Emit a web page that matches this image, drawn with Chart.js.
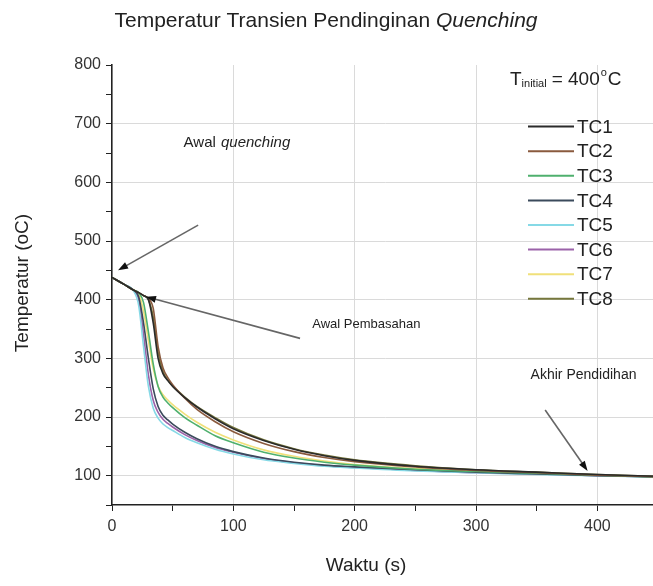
<!DOCTYPE html>
<html lang="id">
<head>
  <meta charset="UTF-8" />
  <title>Temperatur Transien Pendinginan Quenching</title>
  <script src="https://cdn.jsdelivr.net/npm/chart.js@4"></script>
  <style>
    html, body { margin: 0; padding: 0; background: #fff; overflow: hidden; }
    canvas { display: block; }
  </style>
</head>
<body>
  <canvas id="quenchChart" width="664" height="586"></canvas>

  <script>
    // waktu (s)
    const times = [0, 10, 18, 22, 26, 30, 34, 38, 42, 46, 50, 60, 70, 85, 100, 125, 150, 175, 200, 250, 300, 350, 400, 450];

    // temperatur termokopel (°C)
    const tc1 = [438, 426, 416, 412, 407, 400, 360, 300, 274, 262, 252, 233, 217, 197, 180, 160, 145, 134, 126, 116, 110, 106, 102, 99];
    const tc2 = [438, 426, 416, 412, 407, 402, 385, 320, 284, 267, 255, 232, 213, 192, 175, 155, 141, 131, 124, 115, 109, 105, 101, 98];
    const tc3 = [438, 426, 416, 412, 395, 345, 290, 252, 234, 224, 216, 199, 186, 168, 156, 140, 130, 123, 118, 111, 107, 104, 101, 98];
    const tc4 = [438, 426, 416, 405, 360, 300, 248, 218, 203, 195, 188, 174, 163, 150, 141, 130, 123, 118, 115, 110, 106, 103, 100, 98];
    const tc5 = [438, 426, 414, 390, 320, 252, 215, 198, 188, 182, 177, 165, 156, 145, 137, 127, 121, 116, 113, 108, 105, 102, 100, 97];
    const tc6 = [438, 426, 415, 400, 340, 272, 228, 208, 196, 189, 183, 170, 160, 148, 140, 129, 122, 117, 114, 109, 105, 103, 100, 98];
    const tc7 = [438, 426, 416, 410, 380, 330, 282, 253, 238, 229, 221, 205, 191, 174, 161, 144, 133, 125, 119, 112, 107, 104, 101, 98];
    const tc8 = [438, 426, 416, 412, 407, 400, 370, 310, 278, 263, 253, 234, 218, 199, 182, 161, 146, 135, 127, 117, 110, 106, 102, 99];

    const seriesNames = ['TC1', 'TC2', 'TC3', 'TC4', 'TC5', 'TC6', 'TC7', 'TC8'];
    const seriesValues = [tc1, tc2, tc3, tc4, tc5, tc6, tc7, tc8];
    const seriesColors = ['#2a2a2a', '#8a5a3e', '#4fb06e', '#3b4a5c', '#86d9e6', '#9b62a9', '#f0e07a', '#76773c'];

    const FONT = "'Liberation Sans', Arial, sans-serif";

    const datasets = seriesNames.map((name, i) => ({
      label: name,
      data: times.map((t, j) => ({ x: t, y: seriesValues[i][j] })),
      borderColor: seriesColors[i],
      borderWidth: 1.6,
      pointRadius: 0,
      cubicInterpolationMode: 'monotone',
      fill: false
    }));

    function drawArrow(ctx, x1, y1, x2, y2) {
      const ang = Math.atan2(y2 - y1, x2 - x1);
      ctx.save();
      ctx.strokeStyle = '#666';
      ctx.lineWidth = 1.6;
      ctx.beginPath();
      ctx.moveTo(x1, y1);
      ctx.lineTo(x2 - Math.cos(ang) * 6, y2 - Math.sin(ang) * 6);
      ctx.stroke();
      ctx.fillStyle = '#111';
      ctx.beginPath();
      ctx.moveTo(x2, y2);
      ctx.lineTo(x2 - Math.cos(ang) * 10 + Math.sin(ang) * 3.5, y2 - Math.sin(ang) * 10 - Math.cos(ang) * 3.5);
      ctx.lineTo(x2 - Math.cos(ang) * 10 - Math.sin(ang) * 3.5, y2 - Math.sin(ang) * 10 + Math.cos(ang) * 3.5);
      ctx.closePath();
      ctx.fill();
      ctx.restore();
    }

    // judul, label sumbu, legenda dan anotasi
    const overlay = {
      id: 'overlay',
      afterDraw(chart) {
        const { ctx } = chart;
        const px = v => chart.scales.x.getPixelForValue(v);
        const py = v => chart.scales.y.getPixelForValue(v);

        ctx.save();
        ctx.fillStyle = '#222';
        ctx.textBaseline = 'middle';

        // judul
        ctx.font = `21px ${FONT}`;
        const t1 = 'Temperatur Transien Pendinginan ';
        const w1 = ctx.measureText(t1).width;
        ctx.font = `italic 21px ${FONT}`;
        const w2 = ctx.measureText('Quenching').width;
        const tx = 326 - (w1 + w2) / 2;
        ctx.font = `21px ${FONT}`;
        ctx.fillText(t1, tx, 21);
        ctx.font = `italic 21px ${FONT}`;
        ctx.fillText('Quenching', tx + w1, 21);

        // label sumbu
        ctx.font = `19px ${FONT}`;
        ctx.textAlign = 'center';
        ctx.fillText('Waktu (s)', 366, 566);
        ctx.save();
        ctx.translate(23, 283);
        ctx.rotate(-Math.PI / 2);
        ctx.fillText('Temperatur (oC)', 0, 0);
        ctx.restore();
        ctx.textAlign = 'left';

        // T initial
        let x = 510, y = py(774);
        ctx.font = `19px ${FONT}`;
        ctx.fillText('T', x, y);
        x += ctx.measureText('T').width;
        ctx.font = `11px ${FONT}`;
        ctx.fillText('initial', x, y + 4);
        x += ctx.measureText('initial').width + 5;
        ctx.font = `19px ${FONT}`;
        ctx.fillText('= 400', x, y);
        x += ctx.measureText('= 400').width;
        ctx.font = `11px ${FONT}`;
        ctx.fillText('o', x + 1, y - 7);
        x += ctx.measureText('o').width + 2;
        ctx.font = `19px ${FONT}`;
        ctx.fillText('C', x, y);

        // legenda
        chart.data.datasets.forEach((ds, i) => {
          const ly = py(695) + i * 24.6;
          ctx.strokeStyle = ds.borderColor;
          ctx.lineWidth = 2;
          ctx.beginPath();
          ctx.moveTo(528, ly);
          ctx.lineTo(574, ly);
          ctx.stroke();
          ctx.fillStyle = '#222';
          ctx.font = `19px ${FONT}`;
          ctx.fillText(ds.label, 577, ly + 1);
        });

        // anotasi
        ctx.fillStyle = '#222';
        ctx.font = `15px ${FONT}`;
        const a = 'Awal ';
        ctx.fillText(a, px(59), py(667));
        const aw = ctx.measureText(a).width;
        ctx.font = `italic 15px ${FONT}`;
        ctx.fillText('quenching', px(59) + aw + 1, py(667));
        ctx.font = `13px ${FONT}`;
        ctx.fillText('Awal Pembasahan', px(165), py(357));
        ctx.font = `14px ${FONT}`;
        ctx.fillText('Akhir Pendidihan', px(345), py(271));

        drawArrow(ctx, px(71), py(527), px(5), py(450));
        drawArrow(ctx, px(155), py(334), px(28), py(405));
        drawArrow(ctx, px(357), py(212), px(392), py(108));

        ctx.restore();
      }
    };

    new Chart(document.getElementById('quenchChart'), {
      type: 'line',
      data: { datasets },
      options: {
        responsive: false,
        animation: false,
        layout: { padding: { top: 65, left: 0, right: 0, bottom: 0 } },
        plugins: {
          legend: { display: false },
          title: { display: false },
          tooltip: { enabled: false }
        },
        scales: {
          x: {
            type: 'linear',
            min: 0,
            max: 450,
            afterFit: s => { s.height = 81; },
            border: { color: '#222', width: 1.6 },
            grid: {
              color: c => (c.tick && c.tick.value % 100 === 0 && c.tick.value > 0) ? '#dadada' : 'rgba(0,0,0,0)',
              tickColor: '#222',
              tickLength: 6,
              lineWidth: 1
            },
            ticks: {
              stepSize: 50,
              padding: 6,
              maxRotation: 0,
              autoSkip: false,
              color: '#333',
              font: { family: FONT, size: 16 },
              callback: v => (v % 100 === 0 ? v : '')
            }
          },
          y: {
            min: 50,
            max: 800,
            afterFit: s => { s.width = 112; },
            border: { color: '#222', width: 1.6 },
            grid: {
              color: c => (c.tick && c.tick.value % 100 === 0 && c.tick.value < 800) ? '#dadada' : 'rgba(0,0,0,0)',
              tickColor: '#222',
              tickLength: 6,
              lineWidth: 1
            },
            ticks: {
              stepSize: 50,
              padding: 5,
              autoSkip: false,
              color: '#333',
              font: { family: FONT, size: 16 },
              callback: v => (v % 100 === 0 ? v : '')
            }
          }
        }
      },
      plugins: [overlay]
    });
  </script>
</body>
</html>
